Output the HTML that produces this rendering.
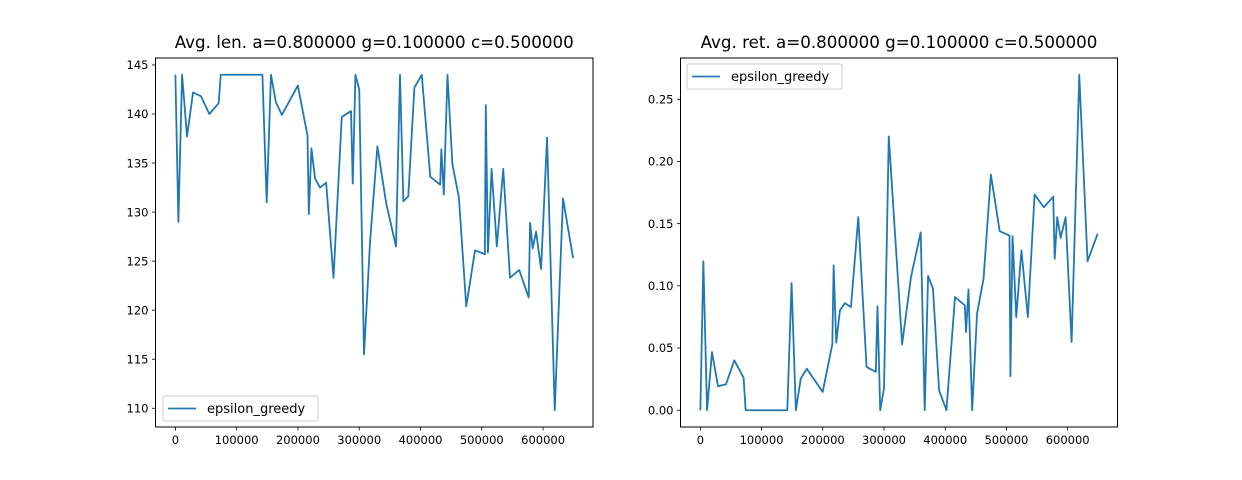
<!DOCTYPE html>
<html><head><meta charset="utf-8"><style>
html,body{margin:0;padding:0;background:#fff;}
svg{display:block;font-family:"DejaVu Sans","Liberation Sans",sans-serif;}
</style></head><body>
<svg id="fig" width="1242" height="480" viewBox="0 0 1242 480"></svg>
<script>
const steps = [0,4.9,10.9,19,28.8,41.9,55.4,70.6,74,142,149,156,164,173.8,199.8,215.6,217.7,222,228,236,246,258,271.5,286.6,289.4,293.8,300,307.8,317.6,329.6,344,360,366.5,372,380,390,402,416,432,434,438,444,452,462.6,474.6,489,505,506.5,510,516,524.5,535,546,561,576.5,578.8,583,588.6,596.7,606.5,619,632.5,649];
const avgLen = [144,129,144,137.7,142.2,141.8,140,141.1,144,144,131,144,141.2,139.9,142.9,137.8,129.8,136.5,133.4,132.5,133,123.3,139.7,140.3,132.9,144,142.5,115.5,126.9,136.7,130.9,126.5,144,131.1,131.6,142.7,144,133.6,132.8,136.4,131.8,144,134.9,131.5,120.4,126.1,125.7,140.9,125.9,134.4,126.5,134.4,123.3,124.1,121.3,128.9,126.3,128,124.2,137.6,109.8,131.4,125.3];
const avgRet = [0,0.1198,0,0.0468,0.0193,0.0209,0.0401,0.0262,0,0,0.1022,0,0.0254,0.0334,0.0147,0.053,0.1164,0.0543,0.0803,0.0861,0.083,0.1552,0.0348,0.0308,0.0835,0,0.0174,0.2202,0.145,0.053,0.107,0.143,0,0.108,0.0977,0.016,0,0.091,0.0843,0.0629,0.0971,0,0.0776,0.1057,0.1894,0.1439,0.1404,0.0273,0.14,0.0749,0.1284,0.0749,0.1734,0.1632,0.1717,0.1217,0.1552,0.1386,0.1552,0.0548,0.2697,0.1198,0.1418];
const xTicks = [0,100000,200000,300000,400000,500000,600000];
const lenTicks = [110,115,120,125,130,135,140,145];
const retTicks = [0,0.05,0.1,0.15,0.2,0.25];
const NS='http://www.w3.org/2000/svg';
const svg=document.getElementById('fig');
function mk(tag,attrs,parent){const e=document.createElementNS(NS,tag);for(const k in attrs)e.setAttribute(k,attrs[k]);(parent||svg).appendChild(e);return e;}
function panel(L,R,T,B,ys,yTicks,yFmt,title,legendPos,prefix){
  const xs=steps.map(s=>s*1000);
  const xmin=Math.min(...xs),xmax=Math.max(...xs),xm=(xmax-xmin)*0.05;
  const ymin=Math.min(...ys),ymax=Math.max(...ys),ym=(ymax-ymin)*0.05;
  const X=v=>L+(v-(xmin-xm))/((xmax+xm)-(xmin-xm))*(R-L);
  const Y=v=>B-(v-(ymin-ym))/((ymax+ym)-(ymin-ym))*(B-T);
  const g=mk('g',{});
  
  
  let d='';xs.forEach((x,i)=>{d+=(i?'L':'M')+X(x).toFixed(2)+' '+Y(ys[i]).toFixed(2);});
  const p=mk('path',{d:d,fill:'none',stroke:'#1f77b4','stroke-width':1.8,'stroke-linejoin':'round'},g);
  
  
  const fr=mk('rect',{x:L,y:T,width:R-L,height:B-T,fill:'none',stroke:'#000','stroke-width':1},g);
  
  
  xTicks.forEach(t=>{const x=X(t);
    mk('line',{x1:x,x2:x,y1:B,y2:B+3.5,stroke:'#000','stroke-width':0.8},g);
    const tx=mk('text',{x:x,y:B+17,'font-size':11.5,'text-anchor':'middle',fill:'#000'},g);tx.textContent=String(t);
    
    
  });
  yTicks.forEach(t=>{const y=Y(t);
    mk('line',{x1:L,x2:L-3.5,y1:y,y2:y,stroke:'#000','stroke-width':0.8},g);
    const tx=mk('text',{x:L-7,y:y+4.2,'font-size':11.5,'text-anchor':'end',fill:'#000'},g);tx.textContent=yFmt(t);
    
    
  });
  const tt=mk('text',{x:(L+R)/2,y:48,'font-size':16.7,'text-anchor':'middle',fill:'#000'},g);tt.textContent=title;
  
  
  const lg=mk('g',{},g);
  
  
  const lx=legendPos[0],ly=legendPos[1];
  mk('rect',{x:lx,y:ly,width:155,height:25,rx:2,fill:'#fff','fill-opacity':0.8,stroke:'#ccc','stroke-width':1},lg);
  mk('line',{x1:lx+5,x2:lx+33,y1:ly+12.5,y2:ly+12.5,stroke:'#1f77b4','stroke-width':1.8},lg);
  const lt=mk('text',{x:lx+44,y:ly+17,'font-size':13,fill:'#000'},lg);lt.textContent='epsilon_greedy';
  
  
}
panel(155.5,593,58,427,avgLen,lenTicks,t=>String(t),'Avg. len. a=0.800000 g=0.100000 c=0.500000',[163,396],'len');
panel(680.5,1117.5,58,427,avgRet,retTicks,t=>t.toFixed(2),'Avg. ret. a=0.800000 g=0.100000 c=0.500000',[687,64],'ret');
</script>
</body></html>
